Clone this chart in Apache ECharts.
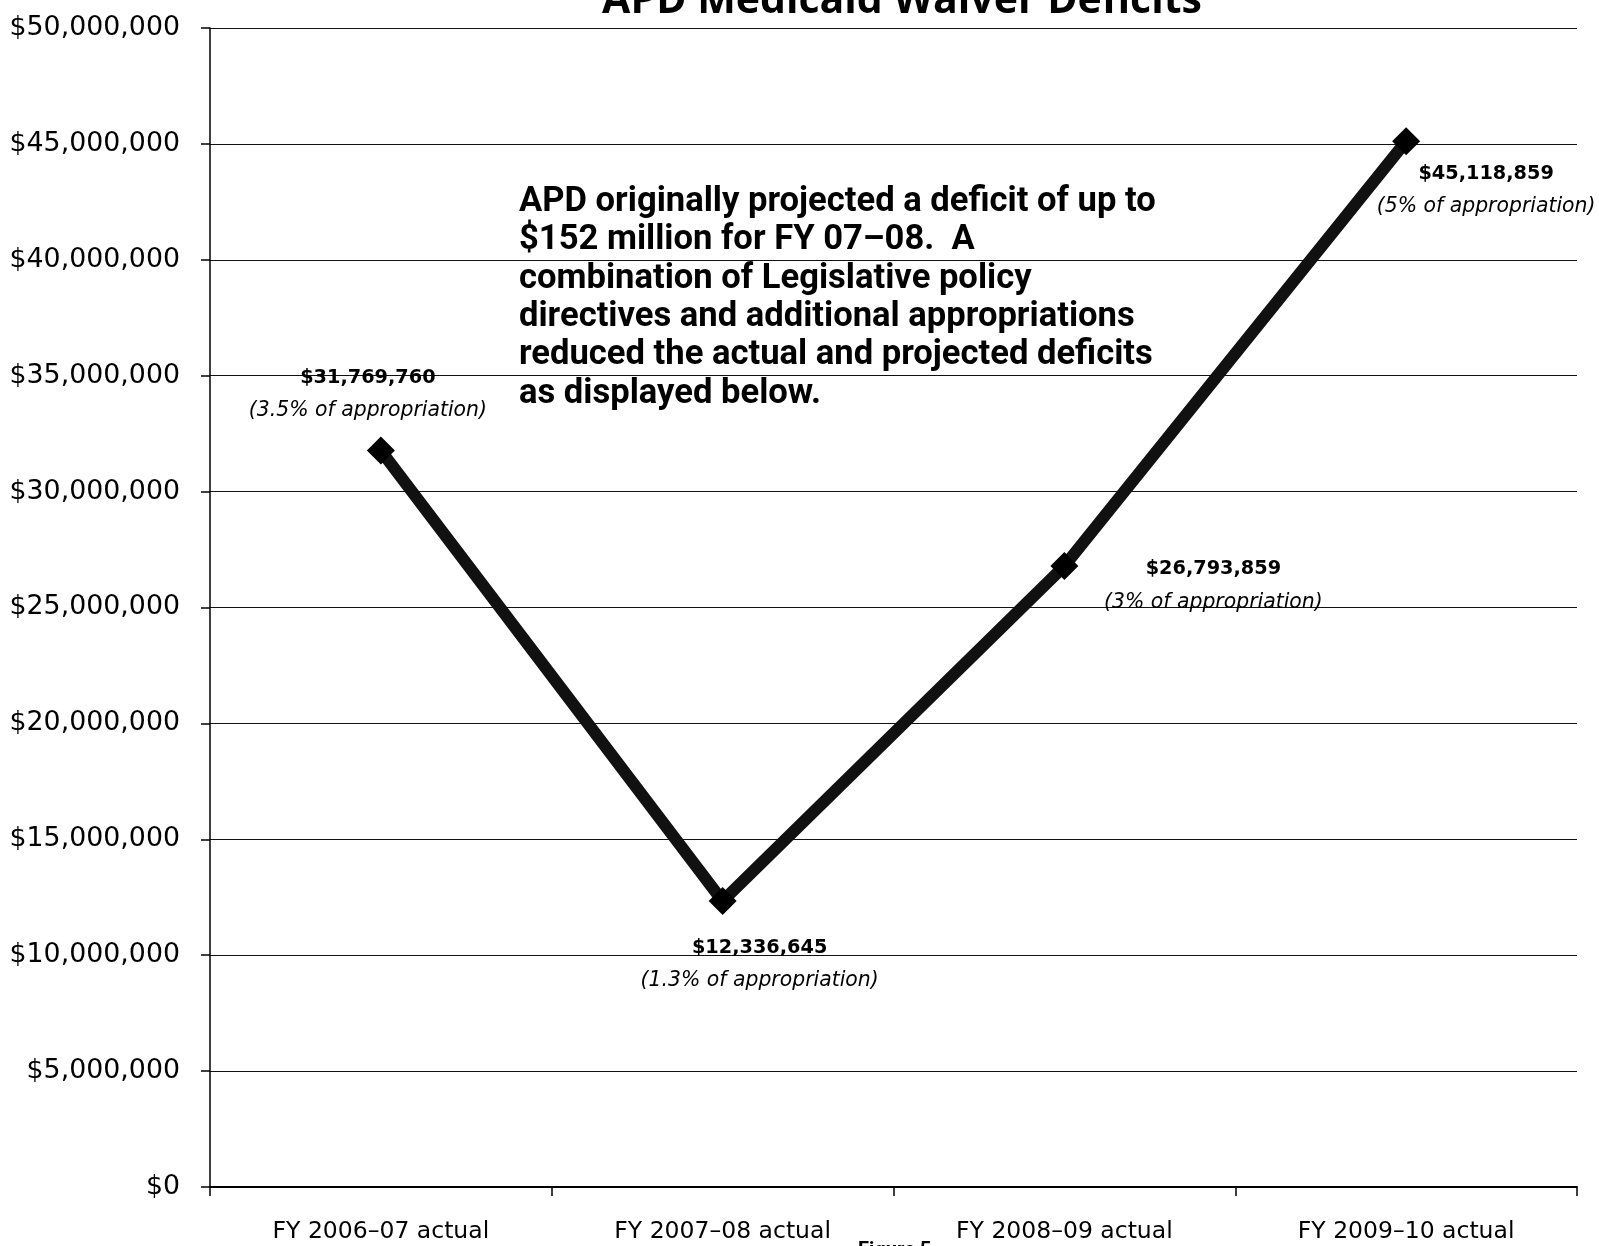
<!DOCTYPE html>
<html><head><meta charset="utf-8">
<script src="https://cdn.jsdelivr.net/npm/echarts@6/dist/echarts.min.js"></script>
<style>html,body{margin:0;padding:0;background:#fff}#c{width:1599px;height:1246px}</style>
</head><body><div id="c"></div>
<script>
const categories = ['FY 2006–07 actual', 'FY 2007–08 actual', 'FY 2008–09 actual', 'FY 2009–10 actual'];
const deficits = [31769760, 12336645, 26793859, 45118859];
const valueLabels = ['$31,769,760', '$12,336,645', '$26,793,859', '$45,118,859'];
const pctLabels = ['(3.5% of appropriation)', '(1.3% of appropriation)', '(3% of appropriation)', '(5% of appropriation)'];
const labelOffsets = [[-13, -56], [37, 63], [149, 20], [80, 49]];
const annotationLines = [
  'APD originally projected a deficit of up to',
  '$152 million for FY 07–08.  A',
  'combination of Legislative policy',
  'directives and additional appropriations',
  'reduced the actual and projected deficits',
  'as displayed below.'
];
const titleText = 'APD Medicaid Waiver Deficits';

const NARROW = '"Roboto", sans-serif';
const SANS = '"DejaVu Sans", sans-serif';

const chart = echarts.init(document.getElementById('c'), null, {renderer: 'canvas'});
chart.setOption({
  backgroundColor: '#ffffff',
  animation: false,
  title: {
    text: titleText,
    left: 897, top: -24,
    textAlign: 'center',
    textStyle: {fontFamily: '"Open Sans", sans-serif', fontWeight: 'bold', fontSize: 41, color: '#000'}
  },
  grid: {left: 210, right: 22, top: 28, bottom: 59, containLabel: false},
  xAxis: {
    type: 'category',
    data: categories,
    boundaryGap: true,
    axisLine: {lineStyle: {color: '#000', width: 2}},
    axisTick: {show: true, length: 9, alignWithLabel: false, lineStyle: {color: '#000', width: 1.5}},
    axisLabel: {color: '#000', fontFamily: SANS, fontSize: 23.5, margin: 33}
  },
  yAxis: {
    type: 'value',
    min: 0, max: 50000000, interval: 5000000,
    axisLine: {show: true, lineStyle: {color: '#000', width: 1.5}},
    axisTick: {show: true, length: 9, lineStyle: {color: '#000', width: 1.5}},
    axisLabel: {
      color: '#000', fontFamily: SANS, fontSize: 26.8, margin: 30,
      formatter: v => '$' + v.toLocaleString('en-US')
    },
    splitLine: {show: true, lineStyle: {color: '#111', width: 1.2}}
  },
  series: [{
    type: 'line',
    data: deficits.map((v, i) => ({
      value: v,
      label: {offset: labelOffsets[i], formatter: '{v|' + valueLabels[i] + '}\n{p|' + pctLabels[i] + '}'}
    })),
    symbol: 'diamond',
    symbolSize: 28,
    lineStyle: {color: '#111', width: 12},
    itemStyle: {color: '#000'},
    label: {
      show: true,
      position: 'inside',
      align: 'center',
      rich: {
        v: {fontFamily: SANS, fontWeight: 'bold', fontSize: 19.3, lineHeight: 33, color: '#000', align: 'center'},
        p: {fontFamily: SANS, fontStyle: 'italic', fontSize: 20.4, lineHeight: 33, color: '#000', align: 'center'}
      }
    },
    z: 5
  }],
  graphic: [
    {
      type: 'text', left: 519, top: 183, z: 10,
      style: {text: annotationLines.join('\n'), font: 'bold 34.6px ' + NARROW, lineHeight: 38.4, fill: '#000'}
    },
    {
      type: 'text', left: 858, top: 1241, z: 10,
      style: {text: 'Figure 5', font: 'bold 20px ' + NARROW, fill: '#000'}
    }
  ]
});
</script>
</body></html>
